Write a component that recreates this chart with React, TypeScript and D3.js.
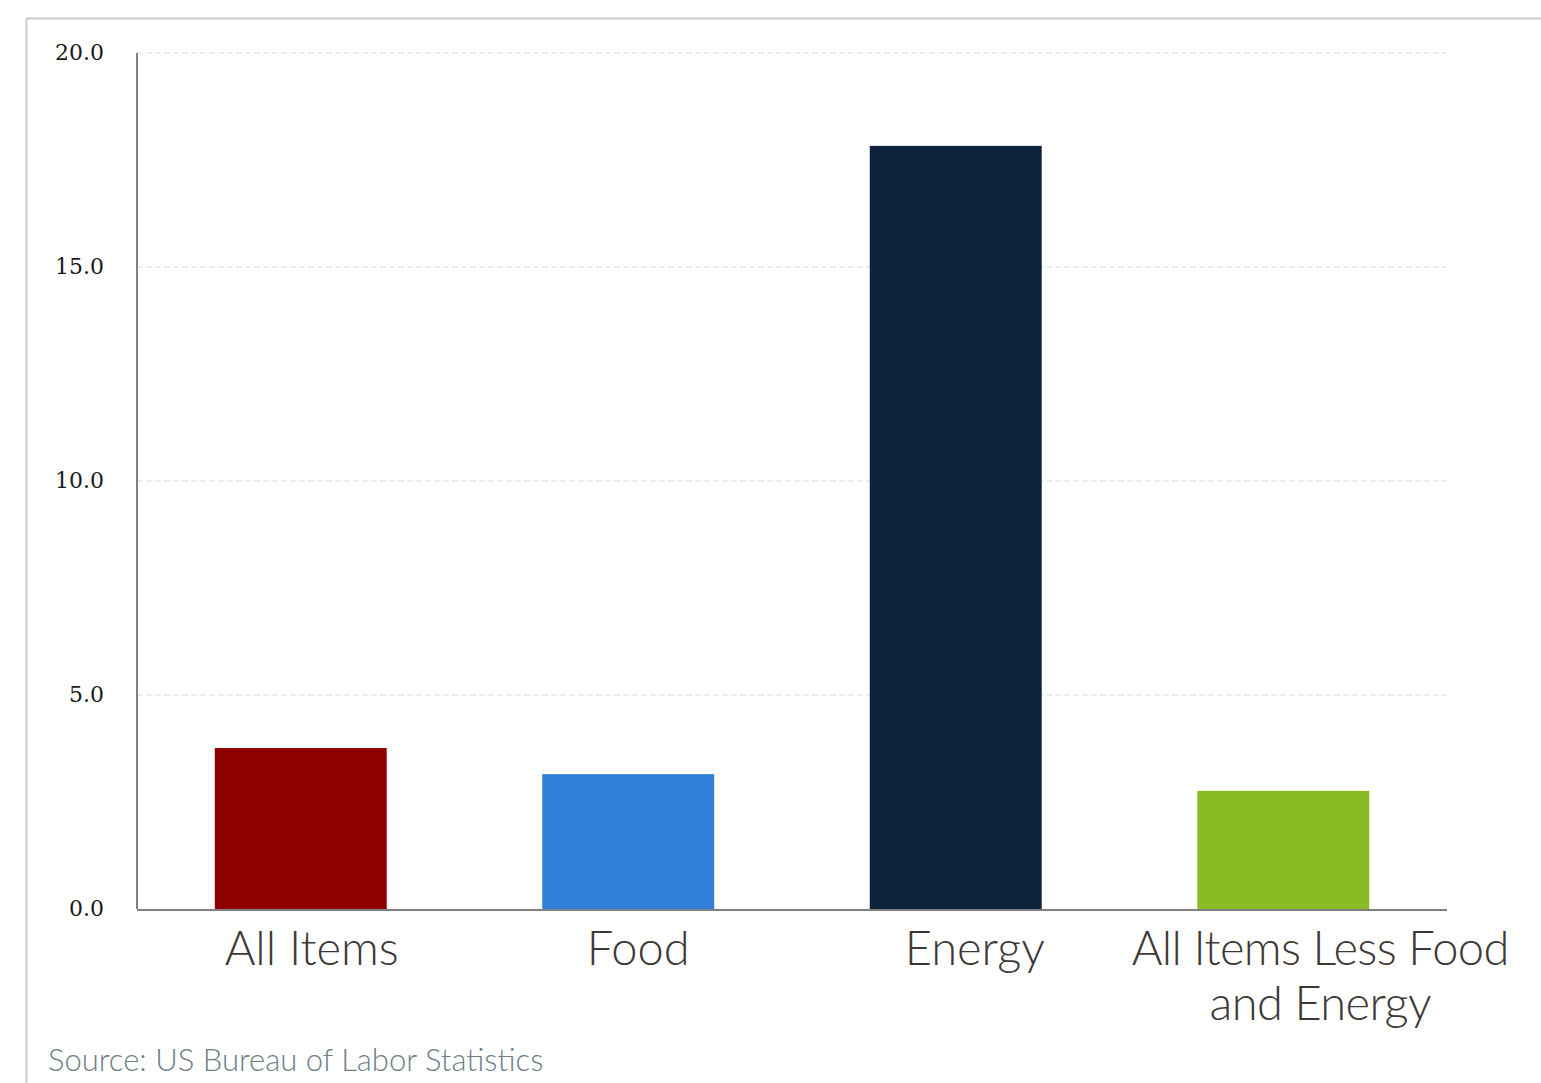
import React from "react";
import * as d3 from "d3";

const categories = ["All Items", "Food", "Energy", "All Items Less Food and Energy"];
const labelLines = [["All Items"], ["Food"], ["Energy"], ["All Items Less Food", "and Energy"]];
const values = [3.76, 3.15, 17.83, 2.76];
const colors = ["#8e0000", "#2f7ed8", "#0f243c", "#8bbb24"];
const yTicks = [0, 5, 10, 15, 20];
const labelOffsets = [11, 10, 19, 37];
const sourceText = "Source: US Bureau of Labor Statistics";

const W = 1541;
const H = 1083;
const left = 137;
const right = 1447;
const top = 53;
const bottom = 909;

export default function App() {
  const x = d3.scaleBand<string>().domain(categories).range([left, right]).paddingInner(0.475).paddingOuter(0.2375);
  const y = d3.scaleLinear().domain([0, 20]).range([bottom, top]);
  return (
    <svg width={W} height={H} style={{ position: "absolute", left: 0, top: 0, background: "#fff" }}>
      <line x1={26} x2={W} y1={18.5} y2={18.5} stroke="#c9cdd1" strokeWidth={2} />
      <line x1={26.5} x2={26.5} y1={18} y2={H} stroke="#c9cdd1" strokeWidth={2} />
      {yTicks.map((t) => (
        <g key={t}>
          {t > 0 && (
            <line x1={left} x2={right} y1={y(t)} y2={y(t)} stroke="#dcdcdc" strokeWidth={1} strokeDasharray="6,3" />
          )}
          <text x={104} y={y(t)} dy="0.3em" textAnchor="end" fontFamily="'DejaVu Serif', serif" fontSize={22} fill="#1a1a1a">
            {d3.format(".1f")(t)}
          </text>
        </g>
      ))}
      {categories.map((c, i) => (
        <rect key={c} x={x(c)} y={y(values[i])} width={x.bandwidth()} height={bottom - y(values[i])} fill={colors[i]} />
      ))}
      <line x1={left} x2={left} y1={top} y2={bottom} stroke="#808080" strokeWidth={2} />
      <line x1={left} x2={right} y1={bottom + 1} y2={bottom + 1} stroke="#808080" strokeWidth={2} />
      {categories.map((c, i) => (
        <text key={c} textAnchor="middle" fontFamily="Lato, sans-serif" fontWeight={300} fontSize={47} letterSpacing={i === 3 ? -0.6 : 0} fill="#3d3835">
          {labelLines[i].map((ln, j) => (
            <tspan key={j} x={(x(c) as number) + x.bandwidth() / 2 + labelOffsets[i]} y={965 + j * 55}>
              {ln}
            </tspan>
          ))}
        </text>
      ))}
      <text x={48} y={1071} fontFamily="Lato, sans-serif" fontWeight={300} fontSize={31} fill="#6e7d88">
        {sourceText}
      </text>
    </svg>
  );
}
